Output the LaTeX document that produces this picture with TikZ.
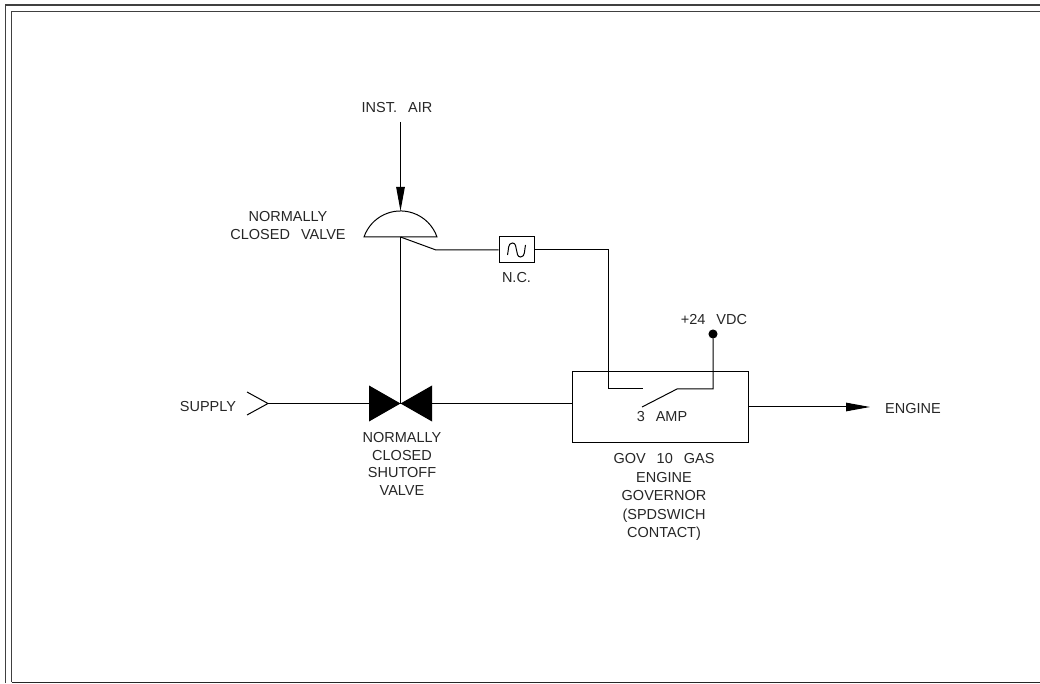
\documentclass[tikz,border=0pt]{standalone}
\usepackage{fontspec}
\setmainfont{Liberation Sans}
\usepackage{tikz}
\usetikzlibrary{calc}
\usetikzlibrary{arrows.meta}
\tikzstyle{arrow} = [line width=1pt,-{Triangle[length=24pt,width=8.5pt]}]
\newcommand{\gap}{\hspace{11pt}}

\begin{document}
\begin{tikzpicture}[
		x=1pt, y=1pt,
		line width=1pt,
		lbl/.style= {align=center, inner sep=0pt, text=black!85, font={\fontsize{14.5}{17.5}\selectfont}},
		main/.style= {draw, inner sep=0pt}
	]
	\useasboundingbox (0,0) rectangle (1040,683);

	% border
	\draw [line width=1.2pt, black!75] (5.5,0) -- (5.5,678) -- (1040,678);
	\draw [line width=1.2pt, black!75] (11.5,0.8) -- (11.5,671.5) -- (1040,671.5);
	\draw [line width=1.2pt, black!85] (11.5,0.8) -- (1040,0.8);

	\coordinate (airtop) at (400.5,561);
	\coordinate (domeleft) at (364,446);
	\coordinate (domeright) at (437,446);
	\coordinate (domebase) at (400.5,446);
	\coordinate (domecrown) at (400.5,472);
	\coordinate (bend) at (436,433);
	\coordinate (shutoff) at (400.5,279.5);
	\coordinate (supplytip) at (268,279.5);
	\coordinate (contactL) at (643,294);
	\coordinate (contactR) at (677,294);
	\coordinate (blade) at (642,276);
	\coordinate (engineend) at (870,276);

	\node (air) [lbl] at (397,575) {INST.\gap AIR};
	\node (ncvalve) [lbl] at (288,457.5) {NORMALLY\\CLOSED\gap VALVE};
	\node (supply) [lbl] at (208,276.5) {SUPPLY};
	\node (shutofflbl) [lbl] at (402,219) {NORMALLY\\CLOSED\\SHUTOFF\\VALVE};
	\node (solenoid) [main, minimum width=35pt, minimum height=26pt] at (516.5,433) {};
	\node (nc) [lbl] at (516.5,405) {N.C.};
	\node (gov) [main, minimum width=176pt, minimum height=70pt] at (660,276) {};
	\node (amp) [lbl] at (662,266) {3\gap AMP};
	\node (govlbl) [lbl, font={\fontsize{14.5}{18.5}\selectfont}] at (664,186) {GOV\gap 10\gap GAS\\ENGINE\\GOVERNOR\\(SPDSWICH\\CONTACT)};
	\node (vdc) [lbl] at (714,363) {+24\gap VDC};
	\node (engine) [lbl] at (913,274) {ENGINE};
	\node (dot) [draw, fill=black, circle, inner sep=0pt, minimum size=8pt] at (713,349) {};

	\draw [arrow] (airtop) -- (domecrown);
	\draw (domeleft) arc [start angle=161, end angle=19, radius=38.6] -- cycle;
	\draw (domebase) -- (shutoff);
	\draw (domebase) -- (bend) -- (solenoid.west);
	\draw ($(solenoid.center)+(-9,-5)$) to [out=75, in=180] ($(solenoid.center)+(-4,7)$) to [out=0, in=100] (solenoid.center) to [out=-80, in=180] ($(solenoid.center)+(4,-7)$) to [out=0, in=-105] ($(solenoid.center)+(9,5)$);

	\draw (solenoid.east) -| (contactL -| 608,0) -- (contactL);
	\draw (blade) -- (contactR) -- (contactR -| dot) -- (dot);

	\draw ($(supplytip)+(-21,11.5)$) -- (supplytip) -- ($(supplytip)+(-21,-11.5)$);
	\draw (supplytip) -- (shutoff) -- (gov.west |- shutoff);
	\fill (shutoff) -- ++(-31.5,18) -- ++(0,-36) -- cycle;
	\fill (shutoff) -- ++(31.5,18) -- ++(0,-36) -- cycle;

	\draw [arrow] (gov.east) -- (engineend);
\end{tikzpicture}
\end{document}
